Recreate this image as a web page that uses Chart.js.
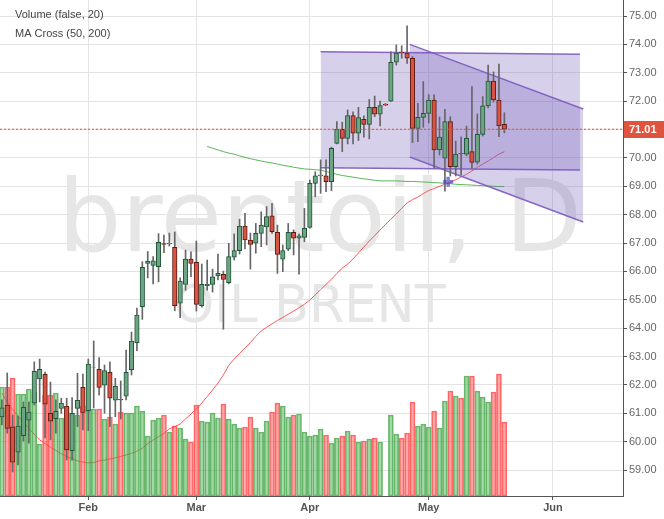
<!DOCTYPE html>
<html>
<head>
<meta charset="utf-8">
<script src="https://cdn.jsdelivr.net/npm/chart.js@4.4.0/dist/chart.umd.min.js"></script>
<style>
  html, body { margin: 0; padding: 0; background: #fff; }
</style>
</head>
<body>
<canvas id="myChart" width="664" height="519"></canvas>
<script>
// daily bars, index 0 = first visible bar
const opens = [60.87,61.29,60.52,59.63,60.21,60.76,61.36,62.21,62.37,61.00,
  60.81,61.17,61.25,59.68,61.17,61.91,61.09,62.62,62.55,61.99,
  62.44,61.46,61.49,61.60,62.54,63.49,64.76,66.28,66.21,66.17,
  66.98,66.97,66.85,64.88,65.54,66.43,66.32,64.79,65.50,65.54,
  65.84,65.90,65.60,66.50,66.73,67.60,67.10,66.99,67.34,67.57,
  67.96,67.38,66.43,66.78,67.38,67.17,67.20,67.55,69.10,69.36,
  69.37,69.16,70.51,71.01,70.69,71.49,70.87,71.36,71.18,71.78,
  71.54,71.89,72.00,73.37,73.73,73.69,73.51,71.04,71.43,71.57,
  72.04,70.28,69.99,71.28,69.69,70.16,70.13,70.22,69.85,70.83,
  71.83,72.71,72.04,71.18];

const highs = [61.47,62.42,60.94,60.90,61.40,61.40,62.81,62.91,62.45,62.10,
  61.47,61.53,61.53,61.55,62.41,62.38,62.91,63.55,62.96,62.70,
  62.81,62.23,62.14,63.23,63.86,64.71,66.34,66.70,66.52,67.33,
  67.28,67.35,67.39,65.77,66.75,66.69,67.07,66.26,66.40,66.08,
  66.61,66.01,66.99,67.32,67.84,68.05,67.35,67.69,68.10,68.28,
  68.40,67.63,66.93,67.69,67.46,67.32,68.22,69.22,69.51,69.93,
  69.93,70.38,71.28,71.26,71.69,71.62,71.78,71.48,72.06,72.18,
  72.00,71.92,73.74,73.98,73.95,74.65,73.57,71.92,72.69,72.23,
  72.22,71.44,71.71,71.45,70.59,70.74,71.12,72.51,71.55,72.16,
  73.27,73.03,73.31,71.59];

const lows = [60.59,60.30,58.93,59.18,60.02,59.95,61.29,61.40,60.13,60.06,
  60.30,61.00,59.35,59.35,60.53,60.41,60.39,61.19,61.64,61.00,
  60.53,60.88,60.80,61.47,62.35,63.21,64.31,65.77,65.56,65.63,
  66.66,66.89,64.61,64.37,65.33,65.81,64.60,64.74,65.34,65.27,
  65.70,63.96,65.56,66.40,66.61,66.79,66.08,66.64,66.87,66.93,
  67.34,65.93,65.99,66.73,66.58,65.90,67.05,67.52,68.63,68.75,
  68.81,68.84,70.49,70.22,70.49,70.49,70.61,70.73,70.67,71.45,
  71.13,71.85,71.99,73.27,73.51,73.33,70.54,70.57,71.08,71.23,
  69.64,70.10,68.83,69.36,69.36,69.40,70.07,69.63,69.78,70.77,
  71.76,71.97,70.75,70.88];

const closes = [61.19,60.47,59.28,60.55,61.21,61.04,62.48,62.55,61.32,60.72,
  61.07,61.36,59.71,61.00,61.46,61.03,62.73,62.63,61.91,62.50,
  61.53,61.95,61.47,62.44,63.54,64.46,66.14,66.36,66.37,67.02,
  66.95,66.99,64.79,65.66,66.43,66.28,64.84,65.54,65.54,65.81,
  65.93,65.72,66.52,66.73,67.60,67.11,66.95,67.34,67.63,67.93,
  67.40,66.60,66.73,67.38,67.17,67.25,67.52,69.10,69.37,69.39,
  69.16,70.34,71.01,70.69,71.49,70.87,71.42,71.18,71.78,71.54,
  71.84,71.86,73.37,73.69,73.70,73.51,71.04,71.43,71.57,72.04,
  70.28,70.73,71.28,69.69,70.13,70.14,70.69,69.84,70.83,71.83,
  72.71,72.04,71.13,71.01];

// volume, arbitrary units
const volume = [109,109,118,102,102,107,104,52,101,101,
  103,78,89,83,81,90,86,87,87,77,
  79,72,84,83,83,90,85,60,76,78,
  81,64,70,68,57,54,91,75,74,83,
  78,92,77,72,68,69,79,68,64,75,
  84,93,90,79,81,82,64,60,61,67,
  61,53,58,60,65,61,54,55,57,58,
  54,0,81,62,58,63,94,70,72,69,
  85,68,95,105,100,98,120,120,105,99,
  94,104,122,74];

// MA Cross (50, 200)
const ma50 = [61.71,61.40,61.13,60.90,60.69,60.46,60.26,60.06,59.93,59.80,
  59.69,59.57,59.48,59.40,59.32,59.28,59.25,59.27,59.32,59.35,
  59.39,59.43,59.48,59.53,59.59,59.66,59.77,59.93,60.06,60.17,
  60.29,60.45,60.53,60.62,60.80,60.97,61.16,61.36,61.59,61.82,
  62.06,62.35,62.69,62.91,63.11,63.30,63.49,63.71,63.90,64.03,
  64.15,64.27,64.38,64.49,64.60,64.72,64.84,64.99,65.17,65.36,
  65.54,65.72,65.93,66.11,66.26,66.44,66.65,66.86,67.07,67.26,
  67.46,67.65,67.84,68.02,68.22,68.41,68.53,68.62,68.74,68.85,
  68.92,69.00,69.07,69.14,69.23,69.33,69.42,69.54,69.67,69.78,
  69.89,70.01,70.13,70.22];

const ma200Start = 38;
const ma200 = [70.40,70.34,70.28,70.22,70.17,70.13,70.07,70.02,69.97,69.93,
  69.89,69.85,69.82,69.78,69.74,69.71,69.67,69.64,69.61,69.60,
  69.58,69.57,69.52,69.47,69.42,69.38,69.35,69.32,69.29,69.26,
  69.24,69.21,69.19,69.19,69.19,69.19,69.18,69.17,69.17,69.16,
  69.15,69.14,69.13,69.12,69.10,69.09,69.07,69.06,69.05,69.04,
  69.03,69.02,69.01,69.00,68.99,68.99];

// drawings (bar index, price)
const chan1X = [59, 107];
const chan1Top = [73.74, 73.65];
const chan1Bottom = [69.65, 69.57];
const chan2X = [75.5, 107.6];
const chan2Top = [74.00, 71.72];
const chan2Bottom = [70.03, 67.74];
const crossPoint = { x: 82.6, y: 69.16 };

const monthIdx = [16, 36, 57, 79, 102];
const monthNames = ['Feb', 'Mar', 'Apr', 'May', 'Jun'];
const priceTicks = [59,60,61,62,63,64,65,66,67,68,69,70,71,72,73,74,75];
const xMin = -0.342;
const xMax = 114.96;

const symbolText = 'brentoil, D';
const descText = 'OIL BRENT';
const legendLines = ['Volume (false, 20)', 'MA Cross (50, 200)'];

// ---------------------------------------
const up = closes.map((c, i) => c >= opens[i]);
const lastClose = closes[closes.length - 1];

const toXY = (arr, start) => arr.map((v, i) => ({ x: i + (start || 0), y: v }));
const pair = (xs, ys) => xs.map((x, i) => ({ x: x, y: ys[i] }));

const wickData = highs.map((h, i) => ({ x: i, y: [lows[i], h] }));
const bodyData = opens.map((o, i) => ({ x: i, y: [Math.min(o, closes[i]), Math.max(o, closes[i])] }));
const volData = [];
const volColor = [];
const volBorder = [];
volume.forEach((v, i) => {
  if (!v) return;
  volData.push({ x: i, y: v });
  volColor.push(up[i] ? 'rgba(76,175,80,0.5)' : 'rgba(255,82,82,0.5)');
  volBorder.push(up[i] ? 'rgba(60,160,65,0.75)' : 'rgba(255,70,70,0.8)');
});

const chanFill = 'rgba(120,100,190,0.3)';
const chanLine = 'rgba(126,87,194,0.9)';
const lastColor = '#e0533f';

const overlay = {
  id: 'overlay',
  beforeDatasetsDraw(chart) {
    const { ctx, chartArea } = chart;
    ctx.save();
    ctx.beginPath();
    ctx.rect(chartArea.left, chartArea.top, chartArea.right - chartArea.left, chartArea.bottom - chartArea.top);
    ctx.clip();
    ctx.fillStyle = '#e6e6e6';
    ctx.textAlign = 'center';
    ctx.textBaseline = 'alphabetic';
    ctx.font = '100px "DejaVu Sans"';
    ctx.fillText(symbolText, 320, 251);
    ctx.font = '51px "DejaVu Sans"';
    ctx.fillText(descText, 310, 322);
    ctx.restore();
  },
  afterDraw(chart) {
    const { ctx, chartArea, scales } = chart;
    const py = Math.round(scales.y.getPixelForValue(lastClose));
    ctx.save();
    ctx.fillStyle = lastColor;
    ctx.fillRect(chartArea.right + 1, py - 8, chart.width - chartArea.right - 1, 17);
    ctx.fillStyle = '#fff';
    ctx.font = 'bold 11px "Liberation Sans", Arial, sans-serif';
    ctx.textBaseline = 'middle';
    ctx.fillText(lastClose.toFixed(2), chartArea.right + 6, py + 1);

    ctx.fillStyle = '#444';
    ctx.font = '11px "Liberation Sans", Arial, sans-serif';
    ctx.textBaseline = 'alphabetic';
    ctx.fillText(legendLines[0], 15, 18);
    ctx.fillText(legendLines[1], 15, 37);
    ctx.restore();
  }
};

const ctx = document.getElementById('myChart');

new Chart(ctx, {
  type: 'bar',
  data: {
    datasets: [
      {
        type: 'line', data: toXY(ma50), borderColor: 'rgba(255,60,60,0.85)', borderWidth: 1,
        pointRadius: 0, fill: false, order: 10
      },
      {
        type: 'line', data: toXY(ma200, ma200Start), borderColor: 'rgba(60,170,60,0.85)', borderWidth: 1,
        pointRadius: 0, fill: false, order: 10
      },
      {
        type: 'bar', yAxisID: 'yv', data: volData, backgroundColor: volColor, borderColor: volBorder,
        borderWidth: 1, borderSkipped: false, barThickness: 5, grouped: false, order: 9
      },
      {
        type: 'line', data: pair(chan1X, chan1Top), borderColor: chanLine, borderWidth: 1.5,
        pointRadius: 0, fill: '+1', backgroundColor: chanFill, order: 8
      },
      {
        type: 'line', data: pair(chan1X, chan1Bottom), borderColor: chanLine, borderWidth: 1.5,
        pointRadius: 0, fill: false, order: 8
      },
      {
        type: 'line', data: pair(chan2X, chan2Top), borderColor: chanLine, borderWidth: 1.5,
        pointRadius: 0, fill: '+1', backgroundColor: chanFill, order: 8
      },
      {
        type: 'line', data: pair(chan2X, chan2Bottom), borderColor: chanLine, borderWidth: 1.5,
        pointRadius: 0, fill: false, order: 8
      },
      {
        type: 'bar', data: wickData, backgroundColor: '#666668', borderWidth: 0,
        barThickness: 1, grouped: false, order: 7
      },
      {
        type: 'bar', data: bodyData,
        backgroundColor: up.map(u => u ? '#6ba583' : '#d75442'),
        borderColor: up.map(u => u ? '#225437' : '#5b1a13'),
        borderWidth: 1, borderSkipped: false, barThickness: 4.5, grouped: false, order: 6
      },
      {
        // last price line
        type: 'line', data: [{ x: xMin, y: lastClose }, { x: xMax, y: lastClose }],
        borderColor: lastColor, borderWidth: 1, borderDash: [2, 2], pointRadius: 0, fill: false, order: 2
      },
      {
        type: 'line', data: [crossPoint], showLine: false, pointStyle: 'cross', pointRadius: 5,
        pointBorderWidth: 3.5, pointBorderColor: 'rgba(60,60,190,0.65)', order: 1
      }
    ]
  },
  options: {
    responsive: false,
    animation: false,
    events: [],
    layout: { padding: 0, autoPadding: false },
    plugins: { legend: { display: false }, tooltip: { enabled: false } },
    scales: {
      x: {
        type: 'linear',
        position: 'bottom',
        offset: false,
        min: xMin,
        max: xMax,
        afterBuildTicks: (s) => { s.ticks = monthIdx.map(v => ({ value: v })); },
        afterFit: (s) => { s.height = 23; s.paddingLeft = 0; s.paddingRight = 0; },
        ticks: {
          autoSkip: false, maxRotation: 0, padding: 1,
          color: '#555', font: { family: '"Liberation Sans", Arial, sans-serif', size: 11, weight: 'bold' },
          callback: (v) => monthNames[monthIdx.indexOf(v)]
        },
        grid: { offset: false, color: '#e3e3e3', tickColor: '#555', tickLength: 4 },
        border: { color: '#555' }
      },
      y: {
        type: 'linear',
        position: 'right',
        min: 58.084,
        max: 75.564,
        afterBuildTicks: (s) => { s.ticks = priceTicks.map(v => ({ value: v })); },
        afterFit: (s) => { s.width = 41; s.paddingTop = 0; s.paddingBottom = 0; },
        ticks: {
          padding: 2, color: '#666',
          font: { family: '"Liberation Sans", Arial, sans-serif', size: 11 },
          callback: (v) => Number(v).toFixed(2)
        },
        grid: { color: '#e3e3e3', tickColor: '#555', tickLength: 4 },
        border: { color: '#555' }
      },
      yv: {
        type: 'linear', display: false, min: 0, max: 496
      }
    }
  },
  plugins: [overlay]
});
</script>
</body>
</html>
